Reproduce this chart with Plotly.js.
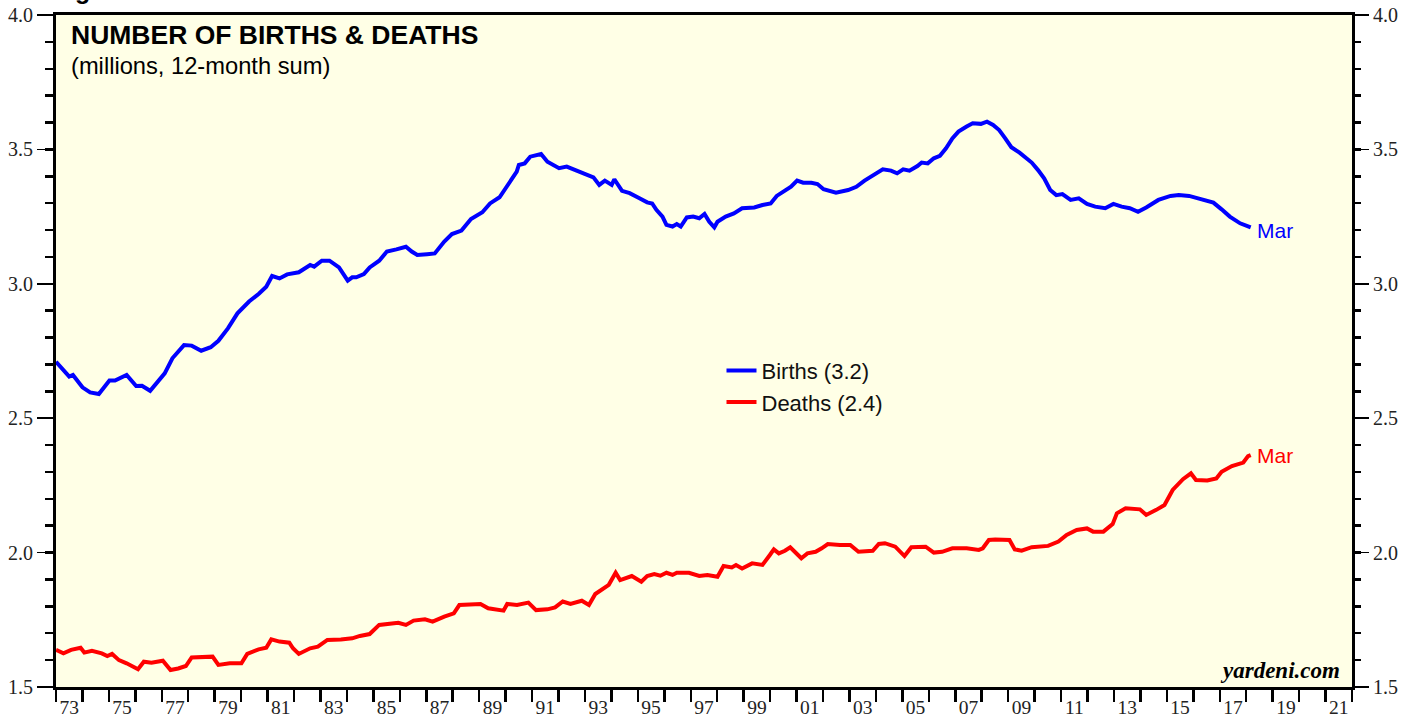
<!DOCTYPE html>
<html>
<head>
<meta charset="utf-8">
<script src="https://cdn.plot.ly/plotly-3.0.1.min.js"></script>
<style>
  html, body { margin: 0; padding: 0; background: #ffffff; }
  #chart { width: 1419px; height: 719px; }
</style>
</head>
<body>
<div id="chart"></div>
<script>
// ---- Data (millions, 12-month sum) ----
const birthYears = [
  1973.00,1973.21,1973.50,1973.64,1974.00,1974.29,1974.62,1975.02,1975.23,1975.67,
  1976.03,1976.25,1976.56,1977.11,1977.40,1977.84,1978.13,1978.49,1978.85,1979.14,
  1979.50,1979.86,1980.30,1980.66,1980.95,1981.17,1981.45,1981.74,1982.18,1982.61,
  1982.76,1983.05,1983.34,1983.70,1983.91,1984.03,1984.20,1984.35,1984.64,1984.86,
  1985.22,1985.51,1985.87,1986.23,1986.45,1986.66,1987.03,1987.32,1987.68,1987.97,
  1988.33,1988.69,1989.12,1989.41,1989.77,1990.14,1990.42,1990.50,1990.72,1990.93,
  1991.15,1991.34,1991.58,1992.02,1992.31,1992.81,1993.32,1993.54,1993.75,1994.01,
  1994.11,1994.40,1994.69,1995.06,1995.35,
  1995.54,1995.70,1995.93,1996.08,1996.31,1996.47,1996.62,1996.85,1997.09,1997.32,
  1997.52,1997.70,1997.89,1998.01,1998.32,1998.63,1998.94,1999.40,1999.71,2000.02,
  2000.25,2000.56,2000.79,2001.02,2001.25,2001.56,2001.79,2002.02,2002.49,2002.95,
  2003.26,2003.57,2003.95,2004.26,2004.57,2004.80,2005.03,2005.27,2005.57,2005.73,
  2005.96,2006.19,2006.42,2006.65,2006.89,2007.12,2007.43,2007.66,2007.97,2008.20,
  2008.43,2008.66,2008.89,2009.12,2009.43,2009.66,2009.89,2010.13,2010.36,2010.59,
  2010.82,2011.05,2011.36,2011.67,2011.98,2012.29,2012.67,2012.98,2013.29,2013.60,
  2013.91,2014.22,2014.68,2015.14,2015.45,2015.84,2016.14,2016.45,2016.76,2017.07,
  2017.38,2017.77,2018.17
];
const birthValues = [
  2.710,2.686,2.655,2.661,2.615,2.596,2.590,2.640,2.640,2.661,
  2.620,2.621,2.602,2.667,2.723,2.772,2.770,2.751,2.764,2.788,
  2.834,2.890,2.934,2.962,2.989,3.029,3.020,3.035,3.043,3.070,
  3.064,3.086,3.086,3.061,3.033,3.012,3.024,3.024,3.036,3.061,
  3.086,3.120,3.128,3.138,3.120,3.107,3.110,3.113,3.157,3.185,
  3.198,3.241,3.266,3.299,3.322,3.380,3.417,3.442,3.448,3.473,
  3.477,3.483,3.454,3.430,3.436,3.415,3.396,3.368,3.384,3.368,
  3.389,3.346,3.337,3.318,3.303,
  3.299,3.275,3.250,3.219,3.213,3.222,3.213,3.247,3.250,3.244,
  3.260,3.231,3.210,3.231,3.250,3.262,3.281,3.284,3.293,3.299,
  3.327,3.349,3.361,3.384,3.376,3.376,3.371,3.352,3.339,3.349,
  3.361,3.384,3.405,3.426,3.421,3.411,3.426,3.421,3.438,3.451,
  3.448,3.467,3.476,3.504,3.541,3.566,3.585,3.597,3.595,3.603,
  3.591,3.572,3.541,3.508,3.488,3.467,3.451,3.423,3.392,3.349,
  3.330,3.334,3.312,3.318,3.297,3.287,3.281,3.297,3.287,3.281,
  3.268,3.284,3.312,3.327,3.330,3.327,3.318,3.312,3.302,3.277,
  3.250,3.225,3.210
];
const deathYears = [
  1973.00,1973.28,1973.57,1973.93,1974.07,1974.36,1974.73,1974.94,1975.12,1975.38,
  1975.67,1975.88,1976.10,1976.32,1976.61,1977.04,1977.33,1977.62,1977.91,1978.13,
  1978.49,1978.92,1979.14,1979.57,1980.01,1980.23,1980.66,1980.95,1981.14,1981.45,
  1981.82,1981.96,1982.18,1982.61,1982.90,1983.26,1983.77,1984.20,1984.49,1984.86,
  1985.22,1985.65,1985.94,1986.23,1986.52,1986.95,1987.24,1987.68,1988.04,1988.25,
  1988.69,1989.05,1989.34,1989.63,1989.92,1990.06,1990.43,1990.86,1991.15,1991.58,
  1991.87,1992.16,1992.45,1992.88,1993.15,1993.39,1993.90,1994.16,1994.33,1994.77,
  1995.13,1995.35,
  1995.62,1995.85,1996.08,1996.31,1996.47,1996.93,1997.32,1997.63,1998.01,1998.24,
  1998.55,1998.71,1998.94,1999.32,1999.71,1999.99,2000.14,2000.33,2000.56,2000.76,
  2001.02,2001.18,2001.41,2001.72,2001.95,2002.18,2002.64,2003.03,2003.34,2003.88,
  2004.11,2004.34,2004.73,2005.08,2005.34,2005.88,2006.19,2006.50,2006.89,2007.43,
  2007.89,2008.04,2008.27,2008.51,2009.05,2009.25,2009.51,2009.89,2010.51,2010.90,
  2011.21,2011.59,2011.98,2012.21,2012.60,2012.95,2013.11,2013.44,2013.98,2014.22,
  2014.60,2014.91,2015.22,2015.61,2015.91,2016.10,2016.53,2016.87,2017.07,2017.46,
  2017.89,2018.07,2018.17
];
const deathValues = [
  1.638,1.625,1.638,1.646,1.628,1.635,1.625,1.615,1.623,1.600,
  1.588,1.576,1.566,1.594,1.590,1.598,1.563,1.569,1.578,1.610,
  1.610,1.613,1.582,1.588,1.588,1.623,1.640,1.646,1.677,1.669,
  1.665,1.644,1.623,1.644,1.650,1.675,1.677,1.681,1.690,1.697,
  1.731,1.734,1.739,1.731,1.747,1.752,1.743,1.762,1.774,1.805,
  1.809,1.809,1.793,1.789,1.784,1.809,1.805,1.814,1.786,1.789,
  1.796,1.818,1.809,1.821,1.805,1.846,1.880,1.925,1.898,1.913,
  1.892,1.913,
  1.920,1.914,1.925,1.917,1.925,1.925,1.913,1.917,1.910,1.950,
  1.945,1.954,1.941,1.960,1.954,1.991,2.012,1.997,2.007,2.020,
  1.997,1.979,1.997,2.003,2.016,2.032,2.028,2.028,2.003,2.007,
  2.032,2.035,2.022,1.987,2.020,2.022,2.000,2.003,2.016,2.016,
  2.010,2.016,2.047,2.049,2.047,2.012,2.007,2.020,2.025,2.041,
  2.066,2.084,2.090,2.078,2.078,2.106,2.146,2.165,2.161,2.140,
  2.159,2.177,2.233,2.273,2.295,2.270,2.268,2.276,2.301,2.322,
  2.335,2.359,2.363
];
const seriesNames = ['Births (3.2)', 'Deaths (2.4)'];
const lastMonthLabel = 'Mar';
const xTickPositions = [1973.5,1975.5,1977.5,1979.5,1981.5,1983.5,1985.5,1987.5,1989.5,1991.5,1993.5,1995.5,1997.5,
  1999.5,2001.5,2003.5,2005.5,2007.5,2009.5,2011.5,2013.5,2015.5,2017.5,2019.5,2021.5];
const xTickLabels = ['73','75','77','79','81','83','85','87','89','91','93','95','97',
  '99','01','03','05','07','09','11','13','15','17','19','21'];
const yTickValues = [1.5, 2.0, 2.5, 3.0, 3.5, 4.0];
const yTickLabels = ['1.5', '2.0', '2.5', '3.0', '3.5', '4.0'];

// ---- Styling ----
const BLUE = '#0000FF', RED = '#FF0000';
const SERIF = '"Liberation Serif", "Times New Roman", serif';
const SANS = '"Liberation Sans", Arial, Helvetica, sans-serif';

const traces = [
  { x: birthYears, y: birthValues, type: 'scatter', mode: 'lines', name: seriesNames[0],
    line: { color: BLUE, width: 4 }, hoverinfo: 'skip' },
  { x: deathYears, y: deathValues, type: 'scatter', mode: 'lines', name: seriesNames[1],
    line: { color: RED, width: 4 }, hoverinfo: 'skip' },
  // invisible trace to activate right-hand axis
  { x: [birthYears[0]], y: [birthValues[0]], yaxis: 'y2', type: 'scatter', mode: 'markers',
    marker: { opacity: 0 }, showlegend: false, hoverinfo: 'skip' }
];

const yAxisCommon = {
  range: [1.5, 4.0],
  tickmode: 'array', tickvals: yTickValues, ticktext: yTickLabels,
  ticks: 'outside', ticklen: 16, tickwidth: 1.5, tickcolor: '#000',
  tickfont: { family: SERIF, size: 20, color: '#222' },
  minor: { tickmode: 'linear', tick0: 1.5, dtick: 0.1, ticks: 'outside', ticklen: 8, tickwidth: 2.5, tickcolor: '#000', showgrid: false },
  showgrid: false, zeroline: false, fixedrange: true
};

const last = (a) => a[a.length - 1];

const layout = {
  width: 1419, height: 719,
  margin: { l: 56, r: 67, t: 15, b: 32, pad: 0 },
  paper_bgcolor: '#ffffff',
  plot_bgcolor: '#FFFFE6',
  showlegend: true,
  legend: {
    x: 0.5135, y: 0.447, xanchor: 'left', yanchor: 'middle',
    bgcolor: 'rgba(0,0,0,0)', borderwidth: 0,
    font: { family: SANS, size: 22, color: '#111' },
    tracegroupgap: 0
  },
  xaxis: {
    range: [1973, 2022],
    tickmode: 'array', tickvals: xTickPositions, ticktext: xTickLabels,
    ticks: 'outside', ticklen: 1, tickcolor: 'rgba(0,0,0,0)', tickwidth: 1,
    tickfont: { family: SERIF, size: 19.5, color: '#222' },
    minor: { tickmode: 'linear', tick0: 1973, dtick: 1, ticks: 'outside', ticklen: 12, tickwidth: 2.5, tickcolor: '#000', showgrid: false },
    showline: true, linecolor: '#000', linewidth: 3, mirror: true,
    showgrid: false, zeroline: false, fixedrange: true
  },
  yaxis: Object.assign({}, yAxisCommon, {
    side: 'left', showline: true, linecolor: '#000', linewidth: 3, mirror: true
  }),
  yaxis2: Object.assign({}, yAxisCommon, {
    side: 'right', overlaying: 'y', anchor: 'x', showline: false
  }),
  annotations: [
    { xref: 'paper', yref: 'paper', x: 0.0100, y: 0.996, xanchor: 'left', yanchor: 'top',
      text: '<b>NUMBER OF BIRTHS &amp; DEATHS</b>', showarrow: false,
      font: { family: SANS, size: 26.5, color: '#000' } },
    { xref: 'paper', yref: 'paper', x: 0.0100, y: 0.946, xanchor: 'left', yanchor: 'top',
      text: '(millions, 12-month sum)', showarrow: false,
      font: { family: SANS, size: 23.7, color: '#000' } },
    { xref: 'x', yref: 'y', x: last(birthYears), y: last(birthValues), xanchor: 'left', yanchor: 'middle',
      xshift: 4, yshift: -3, text: lastMonthLabel, showarrow: false,
      font: { family: SANS, size: 21, color: BLUE } },
    { xref: 'x', yref: 'y', x: last(deathYears), y: last(deathValues), xanchor: 'left', yanchor: 'middle',
      xshift: 4, text: lastMonthLabel, showarrow: false,
      font: { family: SANS, size: 21, color: RED } },
    { xref: 'paper', yref: 'paper', x: 1, y: 0, xanchor: 'right', yanchor: 'bottom',
      xshift: -10, yshift: 2, text: '<b><i>yardeni.com</i></b>', showarrow: false,
      font: { family: SERIF, size: 23, color: '#000' } },
    { xref: 'paper', yref: 'paper', x: 0.0135, y: 1.0, xanchor: 'left', yanchor: 'bottom',
      yshift: 9, text: '<b>g</b>', showarrow: false,
      font: { family: SANS, size: 25, color: '#000' } }
  ]
};

Plotly.newPlot('chart', traces, layout, { displayModeBar: false, staticPlot: true });
</script>
</body>
</html>
